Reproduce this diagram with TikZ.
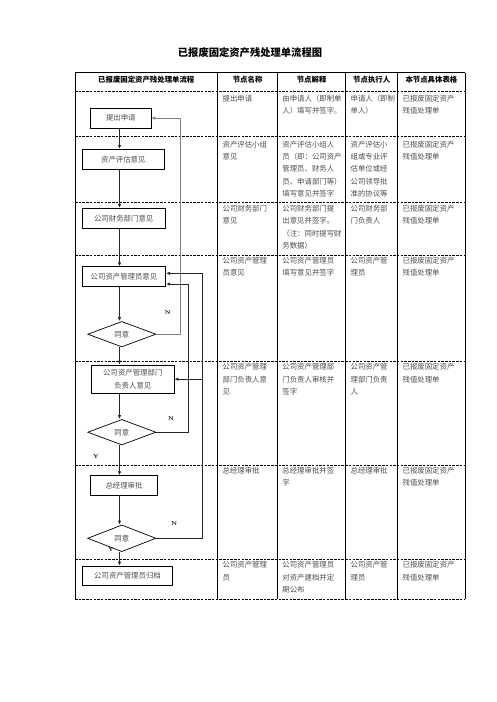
\documentclass[tikz,border=0pt]{standalone}
\usepackage{fontspec}
\newfontfamily\cjk{Noto Sans CJK SC}
\usetikzlibrary{shapes.geometric,arrows.meta}

\begin{document}
\begin{tikzpicture}[x=1pt,y=-1pt,
		cell/.style={anchor=north west,inner sep=0pt,align=left,text=black!70,font=\cjk\fontsize{7.4}{12.3}\selectfont},
		head/.style={inner sep=0pt,font=\cjk\bfseries\fontsize{7.4}{9}\selectfont},
		flowbox/.style={draw=black,line width=0.7pt,inner sep=0pt,align=center,text=black!70,font=\cjk\fontsize{7.4}{13.3}\selectfont},
		ask/.style={diamond,draw=black,line width=0.7pt,inner sep=0pt,aspect=2.7,minimum width=68.3pt,minimum height=25.5pt,text=black!70,font=\cjk\fontsize{7.4}{9}\selectfont},
		rowline/.style={line width=0.7pt,dash pattern=on 2.5pt off 1.2pt},
		flow/.style={line width=0.9pt,black!85,-{Latex[length=4pt,width=3.5pt]}},
		back/.style={line width=0.9pt,black!85,-{Latex[length=4pt,width=3.5pt]}},
		yn/.style={inner sep=0pt,font=\fontsize{5.5}{7}\selectfont\bfseries}]
	\useasboundingbox (0,0) rectangle (496,702);
	
	\node[font=\cjk\bfseries\fontsize{10.3}{12}\selectfont] (title) at (250,52.5) {已报废固定资产残处理单流程图};
	
	\draw[line width=0.8pt] (75,72.5) -- (465,72.5);
	\draw[line width=0.8pt] (75,72.5) -- (75,599);
	\draw[line width=0.8pt] (217.7,72.5) -- (217.7,599);
	\draw[line width=0.8pt] (277.5,72.5) -- (277.5,599);
	\draw[line width=0.8pt] (345.7,72.5) -- (345.7,599);
	\draw[line width=0.8pt] (397.7,72.5) -- (397.7,599);
	\draw[line width=0.8pt] (465,72.5) -- (465,599);
	\draw[rowline] (75,91.7) -- (465,91.7);
	\draw[rowline] (75,136.7) -- (465,136.7);
	\draw[rowline] (75,202.3) -- (465,202.3);
	\draw[rowline] (75,255) -- (465,255);
	\draw[rowline] (75,361.5) -- (465,361.5);
	\draw[rowline] (75,465.5) -- (465,465.5);
	\draw[rowline] (75,559.5) -- (465,559.5);
	\draw[rowline] (75,599) -- (465,599);
	
	\node[head] (h1) at (146.3,79.5) {已报废固定资产残处理单流程};
	\node[head] (h2) at (247.6,79.5) {节点名称};
	\node[head] (h3) at (311.6,79.5) {节点解释};
	\node[head] (h4) at (371.7,79.5) {节点执行人};
	\node[head] (h5) at (431.4,79.5) {本节点具体表格};
	
	\node[cell] (a1) at (222.4,95) {提出申请};
	\node[cell] (b1) at (282.2,95) {由申请人（即制单\\人）填写并签字。};
	\node[cell] (c1) at (350.4,95) {申请人（即制\\单人）};
	\node[cell] (d1) at (402.4,95) {已报废固定资产\\残值处理单};
	
	\node[cell] (a2) at (222.4,140.8) {资产评估小组\\意见};
	\node[cell] (b2) at (282.2,140.8) {资产评估小组人\\员（即：公司资产\\管理员、财务人\\员、申请部门等）\\填写意见并签字};
	\node[cell] (c2) at (350.4,140.8) {资产评估小\\组或专业评\\估单位或经\\公司领导批\\准的协议等};
	\node[cell] (d2) at (402.4,140.8) {已报废固定资产\\残值处理单};
	
	\node[cell] (a3) at (222.4,205) {公司财务部门\\意见};
	\node[cell] (b3) at (282.2,205) {公司财务部门提\\出意见并签字。\\（注：同时提写财\\务数据）};
	\node[cell] (c3) at (350.4,205) {公司财务部\\门负责人};
	\node[cell] (d3) at (402.4,205) {已报废固定资产\\残值处理单};
	
	\node[cell] (a4) at (222.4,256.7) {公司资产管理\\员意见};
	\node[cell] (b4) at (282.2,256.7) {公司资产管理员\\填写意见并签字};
	\node[cell] (c4) at (350.4,256.7) {公司资产管\\理员};
	\node[cell] (d4) at (402.4,256.7) {已报废固定资产\\残值处理单};
	
	\node[cell] (a5) at (222.4,363.3) {公司资产管理\\部门负责人意\\见};
	\node[cell] (b5) at (282.2,363.3) {公司资产管理部\\门负责人审核并\\签字};
	\node[cell] (c5) at (350.4,363.3) {公司资产管\\理部门负责\\人};
	\node[cell] (d5) at (402.4,363.3) {已报废固定资产\\残值处理单};
	
	\node[cell] (a6) at (222.4,467.2) {总经理审批};
	\node[cell] (b6) at (282.2,467.2) {总经理审批并签\\字};
	\node[cell] (c6) at (350.4,467.2) {总经理审批};
	\node[cell] (d6) at (402.4,467.2) {已报废固定资产\\残值处理单};
	
	\node[cell] (a7) at (222.4,561.5) {公司资产管理\\员};
	\node[cell] (b7) at (282.2,561.5) {公司资产管理员\\对资产建档并定\\期公布};
	\node[cell] (c7) at (350.4,561.5) {公司资产管\\理员};
	\node[cell] (d7) at (402.4,561.5) {已报废固定资产\\残值处理单};
	
	\node[flowbox,minimum width=60.3pt,minimum height=20pt] (req) at (120.8,118) {提出申请};
	\node[flowbox,minimum width=82pt,minimum height=19.7pt] (eval) at (123.3,159.2) {资产评估意见};
	\node[flowbox,minimum width=82.7pt,minimum height=20pt] (fin) at (123.7,218.3) {公司财务部门意见};
	\node[flowbox,minimum width=83.4pt,minimum height=20pt] (mgr) at (124,276.7) {公司资产管理员意见};
	\node[ask] (ok1) at (121.8,334.2) {同意};
	\node[flowbox,minimum width=82.3pt,minimum height=28.3pt] (dept) at (132.8,379.2) {公司资产管理部门\\负责人意见};
	\node[ask] (ok2) at (121.8,432.2) {同意};
	\node[flowbox,minimum width=66.6pt,minimum height=19.3pt] (gm) at (124,485.3) {总经理审批};
	\node[ask,minimum height=26.7pt] (ok3) at (121.8,538.3) {同意};
	\node[flowbox,minimum width=90.4pt,minimum height=19pt] (arch) at (127.5,575.5) {公司资产管理员归档};
	
	\coordinate (spine) at (119.5,0);
	\coordinate (lane1) at (180.3,0);
	\coordinate (lane2) at (188.3,0);
	\coordinate (lane3) at (202.7,0);
	
	\draw[flow] (req.south -| spine) -- (eval.north -| spine);
	\draw[flow] (eval.south -| spine) -- (fin.north -| spine);
	\draw[flow] (fin.south -| spine) -- (mgr.north -| spine);
	\draw[flow] (mgr.south -| spine) -- (ok1.north -| spine);
	\draw[flow] (ok1.south -| spine) -- (dept.north -| spine);
	\draw[flow] (dept.south -| spine) -- (ok2.north -| spine);
	\draw[flow] (ok2.south -| spine) -- (gm.north -| spine);
	\draw[flow] (gm.south -| spine) -- (ok3.north -| spine);
	\draw[flow] (ok3.south -| spine) -- (arch.north -| spine);
	
	\draw[back,black!50] (ok1.east) -- (ok1.east -| lane1) |- (req.east);
	\draw[back] (ok2.east) -- (ok2.east -| lane2) |- ([yshift=-7.3pt]mgr.east);
	\draw[back] (ok3.east) -- (ok3.east -| lane3) |- ([yshift=3.4pt]mgr.east);
	\draw[back] (dept.east -| lane3) -- (dept.east);
	
	\node[yn] (n1) at (167.7,312.3) {N};
	\node[yn] (n2) at (171,419) {N};
	\node[yn] (n3) at (174.3,523.3) {N};
	\node[yn] (y2) at (96,457) {Y};
	\node[yn] (y3) at (111,549.3) {Y};
	
\end{tikzpicture}
\end{document}
